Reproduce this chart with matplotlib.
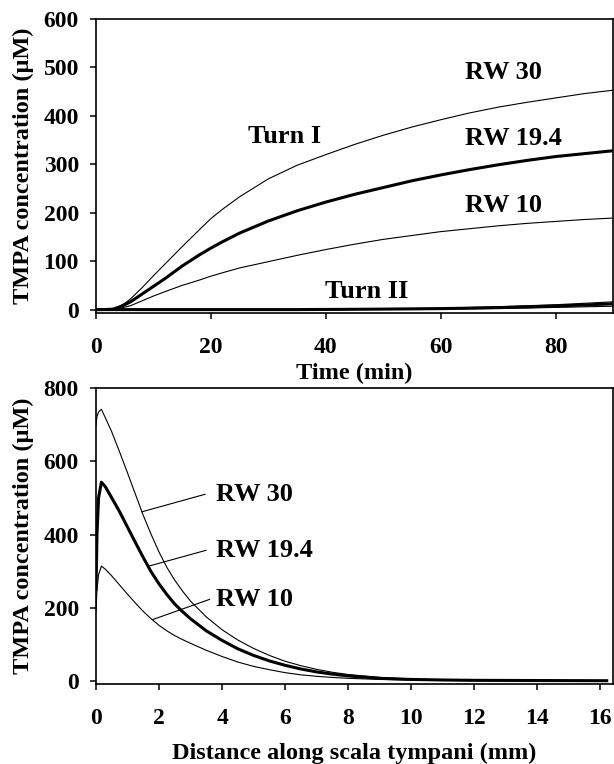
import matplotlib.pyplot as plt

plt.rcParams['font.family'] = ['Liberation Serif', 'DejaVu Serif']
plt.rcParams['font.weight'] = 'bold'

# TMPA in scala tympani vs time, turn I and turn II, for three round-window levels
time_min = [0, 2, 3, 4, 5, 6, 8, 10, 12, 15, 18, 20, 22, 25, 30, 35,
            40, 45, 50, 55, 60, 65, 70, 75, 80, 85, 90]
turn1_rw30 = [0, 0.5, 2, 6, 13, 22, 45, 70, 94, 130, 165, 188, 207, 233, 270, 298,
              320, 341, 360, 377, 392, 406, 418, 428, 437, 446, 453]
turn1_rw194 = [0, 0.3, 1, 5, 10, 16, 32, 48, 64, 90, 113, 127, 140, 158, 183, 204,
               222, 238, 252, 266, 278, 289, 299, 308, 316, 322, 328]
turn1_rw10 = [0, 0.1, 0.5, 2.5, 5, 8, 18, 28, 37, 50, 61, 69, 76, 86, 99, 112,
              124, 135, 145, 153, 161, 167, 173, 178, 182, 186, 189]
turn2_rw30 = [0, 0, 0, 0, 0, 0, 0, 0, 0, 0, 0, 0, 0, 0, 0, 0,
              0.5, 1, 1.5, 2.2, 3, 4.3, 6, 8, 10, 13, 16]
turn2_rw194 = [0, 0, 0, 0, 0, 0, 0, 0, 0, 0, 0, 0, 0, 0, 0, 0,
               0.3, 0.6, 1, 1.5, 2, 3, 4, 5.5, 7.5, 9.5, 12]
turn2_rw10 = [0, 0, 0, 0, 0, 0, 0, 0, 0, 0, 0, 0, 0, 0, 0, 0,
              0.1, 0.3, 0.5, 0.8, 1, 1.6, 2.5, 3.3, 4.5, 5.7, 7]

# TMPA profile along scala tympani at the end of the application
dist_mm = [0, 0.03, 0.08, 0.17, 0.3, 0.5, 0.75, 1.0, 1.25, 1.5, 1.75, 2.0, 2.25,
           2.5, 2.75, 3.0, 3.5, 4.0, 4.5, 5.0, 5.5, 6.0, 6.5, 7.0, 7.5, 8.0,
           9.0, 10.0, 11.0, 12.0, 14.0, 16.2]
prof_rw30 = [700, 722, 735, 742, 718, 680, 625, 568, 510, 452, 400, 352, 310,
             275, 245, 218, 175, 140, 112, 89, 70, 54, 42, 32, 24, 18,
             10, 5.5, 3.5, 2.5, 1.5, 1]
prof_rw194 = [250, 400, 500, 543, 530, 500, 462, 420, 378, 337, 298, 265, 236,
              210, 189, 170, 137, 111, 88, 70, 55, 43, 33, 25, 19, 14,
              7.5, 4.5, 3, 2, 1.5, 1]
prof_rw10 = [190, 250, 290, 314, 305, 287, 262, 237, 213, 190, 170, 152, 137,
             124, 113, 103, 84, 67, 52, 40, 31, 23, 17, 13, 10, 7.5,
             4.5, 3, 2, 1.5, 1, 1]

THIN = 0.8
THICK = 2.2
TICK_FS = 17
LABEL_FS = 17.5
NOTE_FS = 19


def style_axes(ax):
    for side in ax.spines.values():
        side.set_linewidth(1.2)
    ax.tick_params(direction='out', length=4.3, width=1.1, labelsize=TICK_FS)
    ax.tick_params(axis='x', pad=13)
    ax.tick_params(axis='y', pad=8)
    for lab in ax.get_xticklabels() + ax.get_yticklabels():
        lab.set_fontweight('bold')


fig = plt.figure(figsize=(6.14, 7.64), dpi=100)

# top panel: time course
ax1 = fig.add_axes([0.1564, 0.5897, 0.8420, 0.3854])
ax1.plot(time_min, turn1_rw30, color='black', lw=THIN)
ax1.plot(time_min, turn1_rw194, color='black', lw=THICK)
ax1.plot(time_min, turn1_rw10, color='black', lw=THIN)
ax1.plot(time_min, turn2_rw10, color='black', lw=THIN)
ax1.plot(time_min, turn2_rw194, color='black', lw=THICK)
ax1.plot(time_min, turn2_rw30, color='black', lw=THIN)
ax1.set_xlim(0, 90)
ax1.set_ylim(-8, 600)
ax1.set_xticks([0, 20, 40, 60, 80])
ax1.set_yticks([0, 100, 200, 300, 400, 500, 600])
style_axes(ax1)
ax1.set_xlabel('Time (min)', fontsize=LABEL_FS, fontweight='bold')
ax1.set_ylabel('TMPA concentration (\u03bcM)', fontsize=LABEL_FS, fontweight='bold')
ax1.xaxis.set_label_coords(0.5, -0.168)
ax1.yaxis.set_label_coords(-0.12, 0.5)

ax1.text(64.2, 489, 'RW 30', fontsize=NOTE_FS, fontweight='bold', va='center')
ax1.text(64.2, 354, 'RW 19.4', fontsize=NOTE_FS, fontweight='bold', va='center')
ax1.text(64.2, 214, 'RW 10', fontsize=NOTE_FS, fontweight='bold', va='center')
ax1.text(26.4, 357, 'Turn I', fontsize=NOTE_FS, fontweight='bold', va='center')
ax1.text(39.8, 38, 'Turn II', fontsize=NOTE_FS, fontweight='bold', va='center')

# bottom panel: distance profile
ax2 = fig.add_axes([0.1564, 0.1047, 0.8420, 0.3874])
ax2.plot(dist_mm, prof_rw30, color='black', lw=THIN)
ax2.plot(dist_mm, prof_rw194, color='black', lw=THICK)
ax2.plot(dist_mm, prof_rw10, color='black', lw=THIN)
ax2.set_xlim(0, 16.4)
ax2.set_ylim(-8, 800)
ax2.set_xticks(range(0, 17, 2))
ax2.set_yticks([0, 200, 400, 600, 800])
style_axes(ax2)
ax2.set_xlabel('Distance along scala tympani (mm)', fontsize=LABEL_FS, fontweight='bold')
ax2.set_ylabel('TMPA concentration (\u03bcM)', fontsize=LABEL_FS, fontweight='bold')
ax2.xaxis.set_label_coords(0.5, -0.199)
ax2.yaxis.set_label_coords(-0.12, 0.5)

# labels with leader lines onto each curve
notes = [('RW 30', (1.45, 462), (3.46, 510)),
         ('RW 19.4', (1.64, 313), (3.49, 357)),
         ('RW 10', (1.80, 168), (3.60, 223))]
for txt, tip, end in notes:
    ax2.plot([tip[0], end[0]], [tip[1], end[1]], color='black', lw=0.8)
    ax2.text(3.81, end[1], txt, fontsize=NOTE_FS, fontweight='bold', va='center')

fig.savefig('out.png', dpi=100)
